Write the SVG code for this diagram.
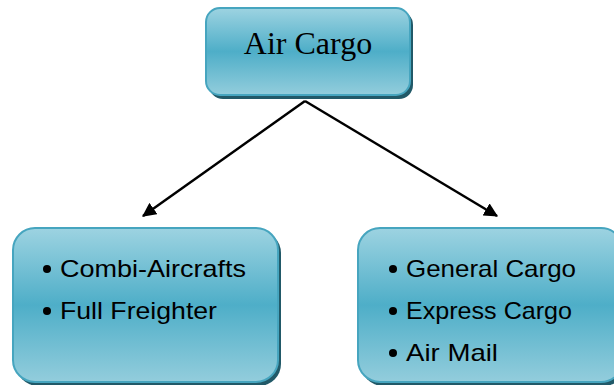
<svg xmlns="http://www.w3.org/2000/svg" width="614" height="385" viewBox="0 0 614 385">
<defs>
<linearGradient id="g" x1="0" y1="0" x2="0" y2="1">
<stop offset="0" stop-color="#9dd3e1"/>
<stop offset="0.5" stop-color="#4eaec8"/>
<stop offset="1" stop-color="#93cddc"/>
</linearGradient>
<marker id="ah" viewBox="0 0 12 12" refX="11" refY="6" markerWidth="14" markerHeight="14" markerUnits="userSpaceOnUse" orient="auto">
<path d="M0,0 L12,6 L0,12 z" fill="#000"/>
</marker>
</defs>
<style>
.box{fill:url(#g);stroke:#46a5bf;stroke-width:2}
.sh{fill:#215968}
.t{font-family:"Liberation Sans",Arial,sans-serif;font-size:24px;fill:#000}
.title{font-family:"Liberation Serif","Times New Roman",serif;font-size:32px;fill:#000}
.conn{stroke:#000;stroke-width:2.5;fill:none;marker-end:url(#ah)}
</style>
<g id="connectors">
<line class="conn" x1="305" y1="101" x2="143" y2="216"/>
<line class="conn" x1="305" y1="101" x2="497" y2="216"/>
</g>
<g id="air-cargo">
<rect class="sh" x="209" y="11" width="204" height="88" rx="14"/>
<rect class="box" x="206" y="8" width="204" height="87" rx="14"/>
<text class="title" x="308" y="54" text-anchor="middle">Air Cargo</text>
</g>
<g id="left-node">
<rect class="sh" x="16" y="231" width="265" height="155" rx="22"/>
<rect class="box" x="13" y="228" width="265" height="154" rx="22"/>
<circle cx="47" cy="269" r="4"/>
<text class="t" x="60" y="277" textLength="186" lengthAdjust="spacingAndGlyphs">Combi-Aircrafts</text>
<circle cx="47" cy="311" r="4"/>
<text class="t" x="60" y="319" textLength="157" lengthAdjust="spacingAndGlyphs">Full Freighter</text>
</g>
<g id="right-node">
<rect class="sh" x="361" y="231" width="265" height="155" rx="22"/>
<rect class="box" x="358" y="228" width="265" height="154" rx="22"/>
<circle cx="393" cy="269" r="4"/>
<text class="t" x="406" y="277" textLength="170" lengthAdjust="spacingAndGlyphs">General Cargo</text>
<circle cx="393" cy="311" r="4"/>
<text class="t" x="406" y="319" textLength="166" lengthAdjust="spacingAndGlyphs">Express Cargo</text>
<circle cx="393" cy="353" r="4"/>
<text class="t" x="406" y="361" textLength="92" lengthAdjust="spacingAndGlyphs">Air Mail</text>
</g>
</svg>
